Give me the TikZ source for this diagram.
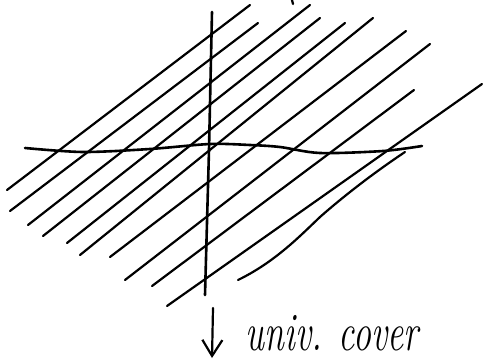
\documentclass[tikz,border=0pt]{standalone}
\usetikzlibrary{arrows.meta}

\begin{document}
\begin{tikzpicture}[
  x=1pt, y=-1pt,
  stroke/.style={line width=2.2pt, line cap=round, line join=round},
  axis/.style={stroke, line width=2.6pt},
  label/.style={font=\fontsize{36}{40}\selectfont\itshape, yscale=1.5, inner sep=0pt}
]
  \useasboundingbox (0,0) rectangle (483,362);

  % the family of parallel leaves
  \foreach \xa/\ya/\xb/\yb in {
      7/190/250/5, 10/211/258/23, 28/225/310/5, 43/236/320/18,
      67/243/345/23, 80/255/373/18, 110/257/406/31, 125/280/430/44,
      152/286/414/90, 167/306/482/84}
    \draw[stroke] (\xa,\ya) -- (\xb,\yb);
  \draw[stroke] (238,280) .. controls (275,262) and (300,236) .. (320,217)
    .. controls (345,195) and (375,172) .. (405,152);
  \draw[stroke] (292,0) -- (293,4);

  % axes
  \draw[axis] plot[smooth] coordinates {(25,148) (83,152) (150,149) (210,144)
    (250,145) (280,147) (320,153) (383,151) (422,146)};
  \draw[axis] (212,12) -- (209,150) -- (205,295);

  % covering map
  \coordinate (top) at (213,308);
  \coordinate (bot) at (212,358);
  \draw[stroke, -{Straight Barb[length=16pt, width=20pt, line width=2.2pt]}] (top) -- (bot);
  \node[label] (cover) at (332,333) {univ. cover};
\end{tikzpicture}
\end{document}
